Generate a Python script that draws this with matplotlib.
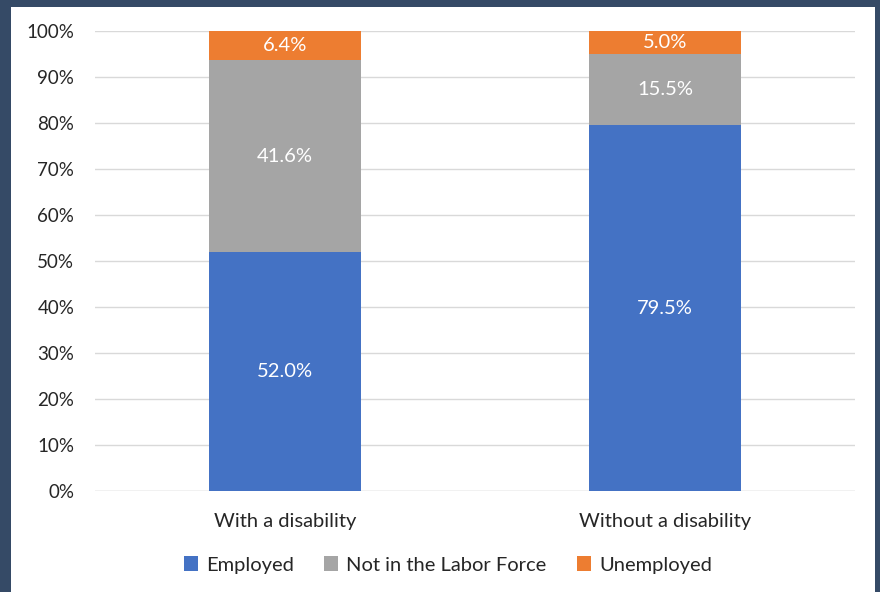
import matplotlib
matplotlib.use("Agg")
import matplotlib.pyplot as plt
import numpy as np
from matplotlib.patches import Rectangle

categories = ["With a disability", "Without a disability"]
employed = [52.0, 79.5]
not_in_lf = [41.6, 15.5]
unemployed = [6.4, 5.0]
series_names = ["Employed", "Not in the Labor Force", "Unemployed"]
colors = ["#4472C4", "#A5A5A5", "#ED7D31"]

plt.rcParams['font.family'] = ['Lato', 'DejaVu Sans']

W, H = 880, 592
fig = plt.figure(figsize=(W/100, H/100), dpi=100)
fig.patch.set_facecolor("#354A66")
fig.add_artist(Rectangle((11/W, 0), (875-11)/W, (H-7)/H, transform=fig.transFigure,
                         facecolor="white", edgecolor="none", zorder=0))

ax = fig.add_axes([95/W, 1-491/H, (855-95)/W, (491-31)/H])
ax.set_facecolor("none")
x = np.arange(len(categories))
data = [employed, not_in_lf, unemployed]
bottom = np.zeros(len(categories))
for vals, name, c in zip(data, series_names, colors):
    ax.bar(x, vals, width=0.4, bottom=bottom, color=c, label=name, zorder=3)
    for xi, v, b in zip(x, vals, bottom):
        ax.text(xi, b + v/2, f"{v:.1f}%", ha="center", va="center",
                color="white", fontsize=14.5, zorder=4)
    bottom += np.array(vals)

ax.set_xlim(-0.5, 1.5)
ax.set_ylim(0, 100)
ax.set_yticks(np.arange(0, 101, 10))
ax.set_yticklabels([f"{v}%" for v in range(0, 101, 10)], fontsize=13.5, color="#262626")
ax.set_xticks(x)
ax.set_xticklabels(categories, fontsize=14.5, color="#262626")
ax.tick_params(axis="both", length=0)
ax.tick_params(axis="y", pad=15)
ax.tick_params(axis="x", pad=16)
ax.yaxis.grid(True, color="#D9D9D9", linewidth=1, zorder=0)
for s in ax.spines.values():
    s.set_visible(False)
ax.axhline(0, color="#D9D9D9", linewidth=1, zorder=2)

leg = fig.legend(loc="center", bbox_to_anchor=(448/W, 1-565/H), ncol=3, frameon=False,
                 fontsize=14.5, handlelength=0.7, handleheight=0.7, handletextpad=0.4,
                 columnspacing=1.5)
for t in leg.get_texts():
    t.set_color("#262626")

fig.savefig("out.png", dpi=100, facecolor=fig.get_facecolor())
